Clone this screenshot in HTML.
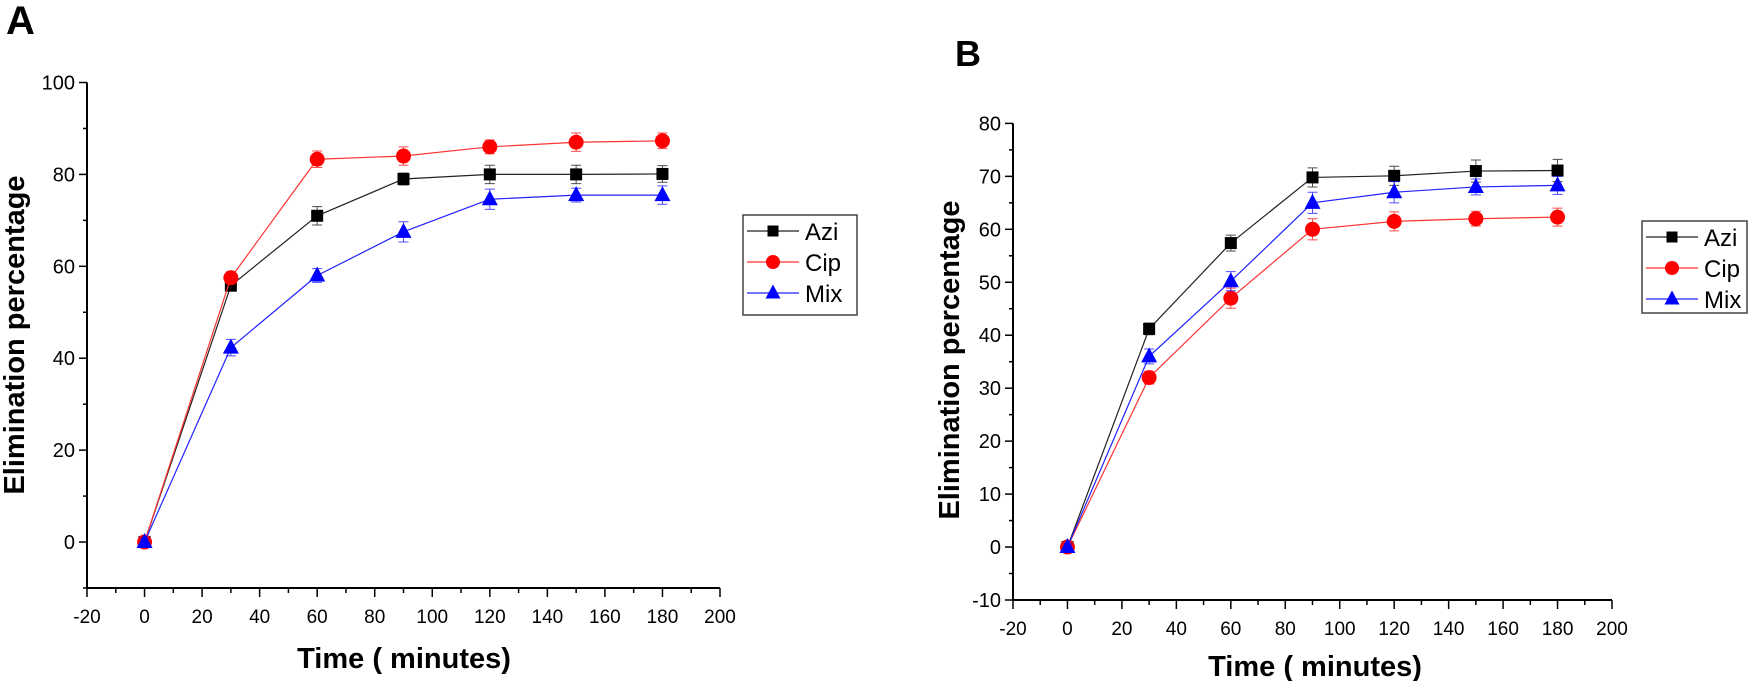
<!DOCTYPE html>
<html><head><meta charset="utf-8"><style>
body{margin:0;background:#fff}
svg{display:block;font-family:"Liberation Sans",Arial,sans-serif}
</style></head><body>
<svg id="c" width="1750" height="681" viewBox="0 0 1750 681" xmlns="http://www.w3.org/2000/svg">
<text x="6" y="34" font-size="40" font-weight="bold">A</text>
<text x="955" y="66" font-size="36" font-weight="bold">B</text>
</svg>
<script>
const times = [0, 30, 60, 90, 120, 150, 180];
const seriesNames = ['Azi', 'Cip', 'Mix'];
const aAzi = [0, 55.8, 71, 79, 80, 80, 80.1];
const aCip = [0, 57.5, 83.3, 84, 86, 87, 87.3];
const aMix = [0, 42.3, 58, 67.5, 74.6, 75.5, 75.5];
const aAziErr = [0.8, 1.2, 2, 1.3, 2, 2, 1.8];
const aCipErr = [0.8, 1.3, 1.8, 2, 1.5, 2, 1.7];
const aMixErr = [0.8, 1.8, 1.5, 2.2, 2.2, 1.5, 2];
const bAzi = [0, 41.2, 57.4, 69.8, 70.1, 71, 71.1];
const bCip = [0, 32, 47, 60, 61.5, 62, 62.3];
const bMix = [0, 36, 50.2, 65, 67, 68, 68.3];
const bAziErr = [0.6, 1.1, 1.5, 1.8, 1.8, 2.1, 2.1];
const bCipErr = [0.6, 1.2, 1.9, 2, 1.8, 1.4, 1.7];
const bMixErr = [0.6, 1.4, 1.8, 2, 2, 1.5, 1.7];
const aYTicks = [0, 20, 40, 60, 80, 100];
const bYTicks = [-10, 0, 10, 20, 30, 40, 50, 60, 70, 80];
const xTicks = [-20, 0, 20, 40, 60, 80, 100, 120, 140, 160, 180, 200];

const svg = document.getElementById('c');
const NS = 'http://www.w3.org/2000/svg';
function mk(tag, attrs, parent) {
  const e = document.createElementNS(NS, tag);
  for (const k in attrs) e.setAttribute(k, attrs[k]);
  (parent || svg).appendChild(e);
  return e;
}
const colors = ['#000000', '#ff0000', '#0000ff'];
const lineColors = ['#222', '#ff3333', '#2222ff'];

function marker(g, kind, x, y, s) {
  let m;
  if (kind === 0) m = mk('rect', {x: x - s, y: y - s, width: 2 * s, height: 2 * s, fill: '#000'}, g);
  else if (kind === 1) m = mk('circle', {cx: x, cy: y, r: s + 1.5, fill: '#ff0000'}, g);
  else m = mk('polygon', {points: `${x},${y - s - 3} ${x - s - 2},${y + s} ${x + s + 2},${y + s}`, fill: '#0000ff'}, g);
  
  
}

function panel(p) {
  const g = mk('g', {});
  
  
  const sx = v => p.x0 + (v - p.xmin) * (p.x1 - p.x0) / (p.xmax - p.xmin);
  const sy = v => p.y0 + (v - p.ymin) * (p.y1 - p.y0) / (p.ymax - p.ymin);
  const ax = mk('path', {d: `M${p.x0},${sy(p.yTop)} V${p.y0} H${p.x1}`, stroke: '#000', 'stroke-width': 2, fill: 'none'}, g);
  
  
  for (let v = p.ymin; v <= p.yTop + 0.01; v += p.yMinor) {
    const major = p.yTicks.includes(v);
    mk('line', {x1: p.x0, x2: p.x0 - (major ? 8 : 4), y1: sy(v), y2: sy(v), stroke: '#000', 'stroke-width': 1.5}, g);
  }
  p.yTicks.forEach(v => {
    const t = mk('text', {x: p.x0 - 12, y: sy(v) + 7, 'font-size': 20, 'text-anchor': 'end'}, g);
    t.textContent = v;
    
    
  });
  for (let v = p.xmin; v <= p.xmax; v += 10) {
    const major = xTicks.includes(v);
    mk('line', {x1: sx(v), x2: sx(v), y1: p.y0, y2: p.y0 + (major ? 9 : 5), stroke: '#000', 'stroke-width': 1.5}, g);
  }
  xTicks.forEach(v => {
    const t = mk('text', {x: sx(v), y: p.y0 + 35, 'font-size': 19, 'text-anchor': 'middle'}, g);
    t.textContent = v;
    
    
  });
  const yt = mk('text', {x: 0, y: 0, 'font-size': 29, 'font-weight': 'bold', 'text-anchor': 'middle', transform: `translate(${p.ytx},${p.yty}) rotate(-90)`}, g);
  yt.textContent = 'Elimination percentage';
  
  
  const xt = mk('text', {x: p.xtx, y: p.xty, 'font-size': 29, 'font-weight': 'bold', 'text-anchor': 'middle'}, g);
  xt.textContent = 'Time ( minutes)';
  
  
  p.series.forEach((vals, si) => {
    const sg = mk('g', {}, g);
    
    
    const path = mk('polyline', {points: times.map((t, i) => `${sx(t)},${sy(vals[i])}`).join(' '), fill: 'none', stroke: lineColors[si], 'stroke-width': 1.2}, sg);
    
    
    times.forEach((t, i) => {
      const e = p.errs[si][i];
      const x = sx(t);
      const yTop = sy(vals[i] + e), yBot = sy(vals[i] - e);
      mk('path', {d: `M${x},${yTop} V${yBot} M${x - 5},${yTop} H${x + 5} M${x - 5},${yBot} H${x + 5}`, stroke: colors[si], 'stroke-width': 1, fill: 'none', opacity: 0.7}, sg);
      marker(sg, si, x, sy(vals[i]), 6);
    });
  });
  const lg = mk('g', {}, g);
  
  
  mk('rect', {x: p.lx, y: p.ly, width: p.lw, height: p.lh, fill: '#fff', stroke: '#444', 'stroke-width': 1.5}, lg);
  seriesNames.forEach((n, si) => {
    const ey = p.ly + 16 + si * 31;
    const en = mk('g', {}, lg);
    
    
    mk('line', {x1: p.lx + 4, x2: p.lx + 56, y1: ey, y2: ey, stroke: lineColors[si], 'stroke-width': 1.2}, en);
    marker(en, si, p.lx + 30, ey, 5.5);
    const t = mk('text', {x: p.lx + 62, y: ey + 9, 'font-size': 24}, en);
    t.textContent = n;
  });
}

panel({name: 'panel-a', x0: 87, x1: 720, xmin: -20, xmax: 200, y0: 588, y1: 82.5, ymin: -10, ymax: 100, yTop: 100,
  yTicks: aYTicks, yMinor: 10, series: [aAzi, aCip, aMix], errs: [aAziErr, aCipErr, aMixErr],
  ytx: 24, yty: 335, xtx: 404, xty: 668, lx: 743, ly: 215, lw: 114, lh: 100});
panel({name: 'panel-b', x0: 1013, x1: 1612, xmin: -20, xmax: 200, y0: 600, y1: 123.4, ymin: -10, ymax: 80, yTop: 80,
  yTicks: bYTicks, yMinor: 5, series: [bAzi, bCip, bMix], errs: [bAziErr, bCipErr, bMixErr],
  ytx: 959, yty: 360, xtx: 1315, xty: 676, lx: 1642, ly: 221, lw: 105, lh: 92});
</script>
</body></html>
